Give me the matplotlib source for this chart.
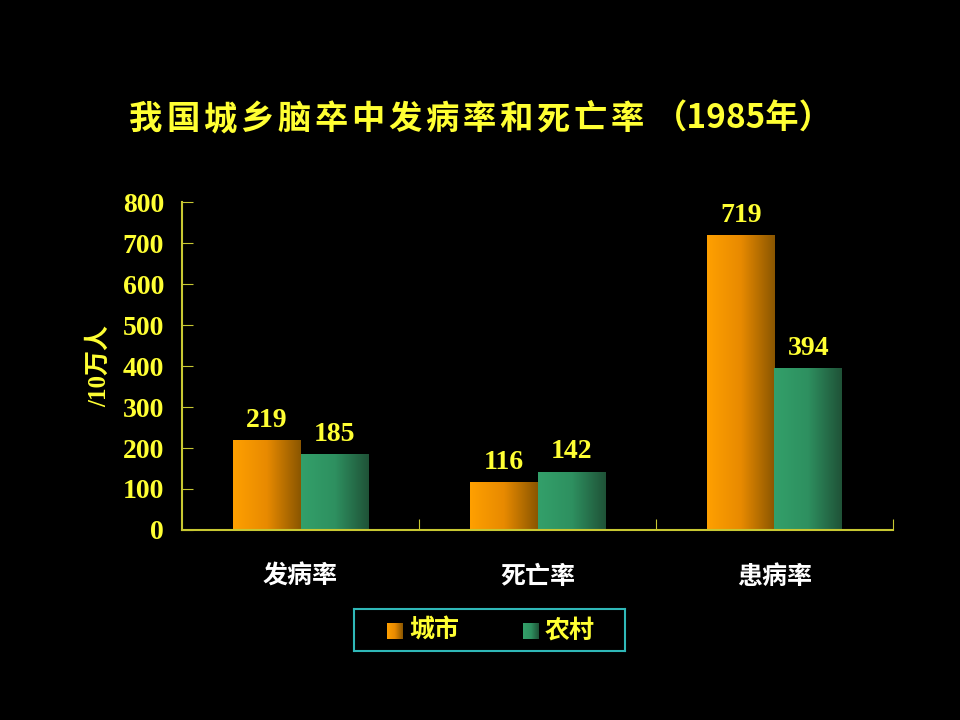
import matplotlib.pyplot as plt
import numpy as np
from matplotlib.colors import LinearSegmentedColormap

plt.rcParams['font.family'] = ['Noto Sans CJK SC', 'DejaVu Sans']

categories = ['发病率', '死亡率', '患病率']
series_names = ['城市', '农村']
city = [219, 116, 719]
rural = [185, 142, 394]
yticks = [0, 100, 200, 300, 400, 500, 600, 700, 800]
title_main = '我国城乡脑卒中发病率和死亡率'
title_tail = '（1985年）'

yellow = '#FFFF33'
axis_col = '#C8C832'
num_font = ['Liberation Serif', 'DejaVu Serif']

orange_cmap = LinearSegmentedColormap.from_list('org', ['#FFA000', '#E88A00', '#8A5600'])
green_cmap = LinearSegmentedColormap.from_list('grn', ['#33A06A', '#2E9060', '#1F5237'])
grad = np.linspace(0, 1, 256).reshape(1, -1)

fig = plt.figure(figsize=(9.6, 7.2), dpi=100, facecolor='black')
ax = fig.add_axes([0.1896, 0.2639, 0.7406, 0.4555], facecolor='black')

x = np.arange(len(categories))
w = 0.285
for vals, off, cmap in [(city, -w / 2, orange_cmap), (rural, w / 2, green_cmap)]:
    bars = ax.bar(x + off, vals, width=w, color='none', edgecolor='none')
    for b, v in zip(bars, vals):
        x0 = b.get_x()
        im = ax.imshow(grad, cmap=cmap, aspect='auto',
                       extent=[x0, x0 + w, 0, b.get_height()], zorder=2)
        im.set_clip_path(b)
        ax.text(x0 + w / 2, v + 18, str(v), ha='center', va='bottom',
                color=yellow, fontsize=20, family=num_font, fontweight='bold')

ax.set_xlim(-0.5, 2.5)
ax.set_ylim(0, 800)
ax.set_yticks(yticks)
ax.set_yticklabels([str(t) for t in yticks], family=num_font, fontsize=20,
                   color=yellow, fontweight='bold')
ax.tick_params(axis='y', direction='in', length=8, color=axis_col, pad=13)

ax.set_xticks([0.5, 1.5, 2.5])
ax.set_xticklabels([])
ax.tick_params(axis='x', which='major', direction='in', length=8, color=axis_col)
ax.set_xticks(x, minor=True)
ax.set_xticklabels(categories, minor=True, color='white', fontsize=18,
                   fontweight='bold')
ax.tick_params(axis='x', which='minor', length=0, pad=25)

for s in ['top', 'right']:
    ax.spines[s].set_visible(False)
for s in ['left', 'bottom']:
    ax.spines[s].set_color(axis_col)
    ax.spines[s].set_linewidth(1.5)

ax.set_ylabel('/10万人', color=yellow, fontsize=18, fontweight='bold', labelpad=8)
ax.yaxis.label.set_family(['Liberation Serif', 'Noto Sans CJK SC'])

# title, characters spread out like the slide
pitch = 37 / 960
x_start = 146 / 960
for i, ch in enumerate(title_main):
    fig.text(x_start + i * pitch, 0.834, ch, ha='center', va='center',
             color=yellow, fontsize=24, fontweight='bold')
fig.text(743 / 960, 0.834, title_tail, ha='center', va='center',
         color=yellow, fontsize=24, fontweight='bold')

# legend box
lax = fig.add_axes([0.369, 0.0958, 0.282, 0.0583], facecolor='black')
lax.set_xticks([])
lax.set_yticks([])
for s in lax.spines.values():
    s.set_color('#2FB8B8')
    s.set_linewidth(1.5)
for name, sx, cmap in [(series_names[0], 387, orange_cmap), (series_names[1], 523, green_cmap)]:
    lax.imshow(grad, cmap=cmap, aspect='auto', extent=[sx, sx + 16, 639, 623])
    lax.text(sx + 22, 631, name, color=yellow, fontsize=18, fontweight='bold',
             ha='left', va='center')
lax.set_xlim(354, 625)
lax.set_ylim(651, 609)

fig.savefig('out.png', dpi=100, facecolor='black')
